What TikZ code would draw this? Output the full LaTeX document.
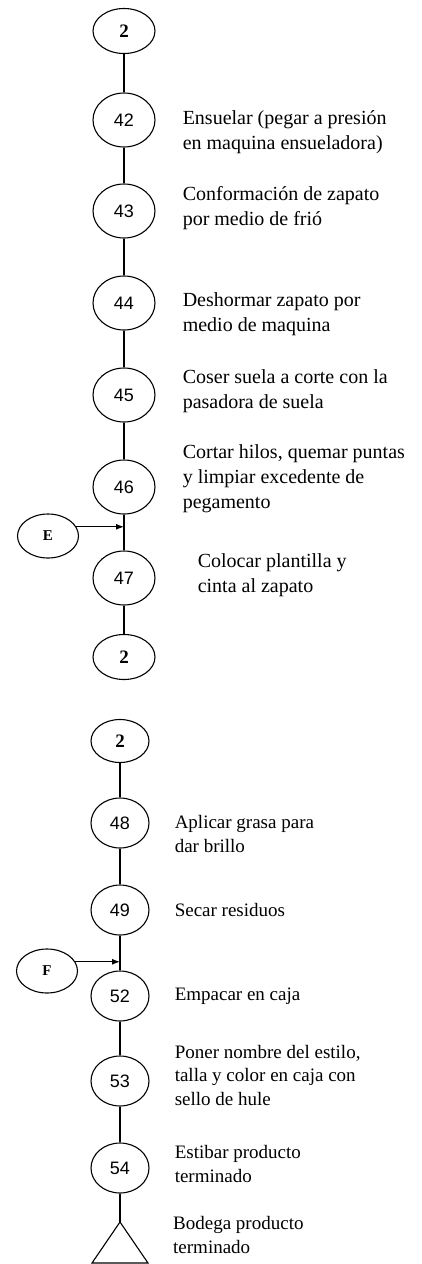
\documentclass[tikz,border=0pt]{standalone}
\usepackage{fontspec}
\setmainfont{Liberation Serif}
\newfontfamily\numfont{Liberation Sans}
\usetikzlibrary{positioning,shapes.geometric,arrows.meta}
\tikzset{basic/.style={draw,ellipse,inner sep=0pt,line width=1.1pt}}
\tikzset{link/.style={basic,minimum width=62pt,minimum height=45pt,font=\fontsize{19}{19}\selectfont\bfseries}}
\tikzset{oper/.style={basic,minimum width=62pt,minimum height=54pt,font=\fontsize{18}{18}\numfont}}
\tikzset{oper2/.style={oper,minimum width=58pt,minimum height=50pt}}
\tikzset{feed/.style={basic,minimum width=61pt,minimum height=44pt,font=\fontsize{15}{15}\selectfont\bfseries}}
\tikzset{desc/.style={align=left,inner sep=0pt,font=\fontsize{20}{25}\selectfont}}
\tikzset{desc2/.style={desc,font=\fontsize{19}{23.5}\selectfont}}
\tikzset{flow/.style={line width=1.1pt}}
\tikzset{inflow/.style={flow,-{Latex[length=8pt,width=6pt]}}}

\begin{document}
\begin{tikzpicture}[x=1pt,y=-1pt,node distance=91pt]
    \useasboundingbox (0,0) rectangle (422,1264);
    % first sheet
    \node[link] (top) at (124,31) {2};
    \node[oper,below of=top,node distance=89pt] (n42) {42};
    \node[oper,below of=n42] (n43) {43};
    \node[oper,below of=n43,node distance=92pt] (n44) {44};
    \node[oper,below of=n44,node distance=92pt] (n45) {45};
    \node[oper,below of=n45,node distance=92pt] (n46) {46};
    \node[oper,below of=n46] (n47) {47};
    \node[link,below of=n47,node distance=79pt] (bot) {2};
    \foreach \a/\b in {top/n42,n42/n43,n43/n44,n44/n45,n45/n46,n46/n47,n47/bot}
        \draw[flow] (\a) -- (\b);
    \node[feed] (e) at (48,536) {E};
        \draw[inflow] (e.18) -- (e.18 -| n46);

    \node[desc,right=27pt of n42,yshift=-12pt] {Ensuelar (pegar a presión\\en maquina ensueladora)};
    \node[desc,right=27pt of n43,yshift=3pt] {Conformación de zapato\\por medio de frió};
    \node[desc,right=27pt of n44,yshift=-11pt] {Deshormar zapato por\\medio de maquina};
    \node[desc,right=27pt of n45,yshift=4pt] {Coser suela a corte con la\\pasadora de suela};
    \node[desc,right=27pt of n46,yshift=8pt] {Cortar hilos, quemar puntas\\y limpiar excedente de\\pegamento};
    \node[desc,right=42pt of n47,yshift=3pt] {Colocar plantilla y\\cinta al zapato};

    % second sheet
    \node[link,minimum width=58pt,minimum height=43pt] (top2) at (120,741) {2};
    \node[oper2,below of=top2,node distance=82pt] (n48) {48};
    \node[oper2,below of=n48,node distance=87pt] (n49) {49};
    \node[oper2,below of=n49,node distance=86pt] (n52) {52};
    \node[oper2,below of=n52,node distance=85pt] (n53) {53};
    \node[oper2,below of=n53,node distance=87pt] (n54) {54};
    \coordinate[below of=n54,node distance=54pt] (bod);
    \draw[flow] (bod) -- ++(28,41) -- ++(-56,0) -- cycle;
    \foreach \a/\b in {top2/n48,n48/n49,n49/n52,n52/n53,n53/n54,n54/bod}
        \draw[flow] (\a) -- (\b);
    \node[feed] (f) at (47,971) {F};
        \draw[inflow] (f.18) -- (f.18 -| n52);

    \node[desc2,right=25pt of n48,yshift=-11pt] {Aplicar grasa para\\dar brillo};
    \node[desc2,right=25pt of n49] {Secar residuos};
    \node[desc2,right=25pt of n52] {Empacar en caja};
    \node[desc2,right=25pt of n53,yshift=6pt] {Poner nombre del estilo,\\talla y color en caja con\\sello de hule};
    \node[desc2,right=25pt of n54,yshift=4pt] {Estibar producto\\terminado};
    \node[desc2,anchor=west] (bodega) at ([xshift=53pt,yshift=-13pt]bod) {Bodega producto\\terminado};
\end{tikzpicture}
\end{document}
